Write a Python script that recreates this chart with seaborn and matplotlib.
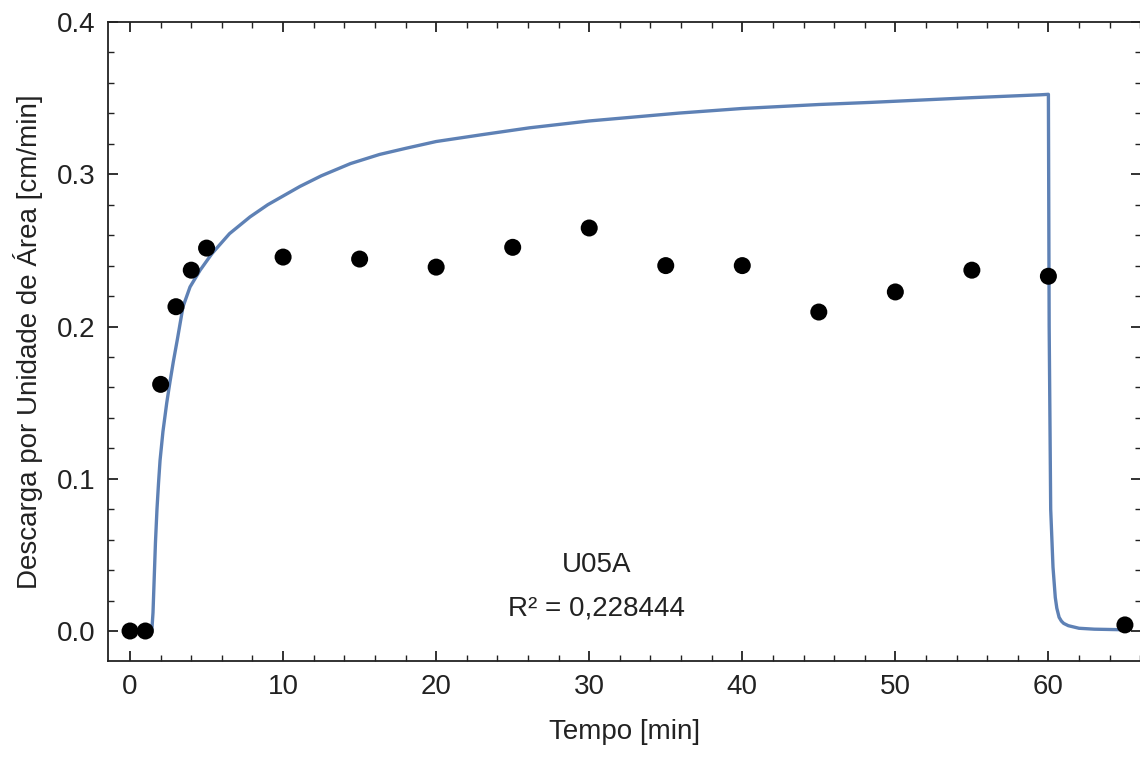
import matplotlib
matplotlib.use("Agg")
import matplotlib.pyplot as plt
import seaborn as sns
import pandas as pd
from matplotlib.ticker import MultipleLocator

# Observed data
obs_t = [0, 1, 2, 3, 4, 5, 10, 15, 20, 25, 30, 35, 40, 45, 50, 55, 60, 65]
obs_q = [0.0, 0.0, 0.162, 0.213, 0.237, 0.2515, 0.2456, 0.2443, 0.239, 0.252,
         0.2647, 0.240, 0.240, 0.2095, 0.2227, 0.237, 0.233, 0.004]

# Fitted model curve
fit_t = [0, 1.0, 1.42, 1.5, 1.58, 1.66, 1.76, 1.86, 1.96, 2.15, 2.4, 2.6, 2.83, 3.1,
         3.46, 3.92, 4.58, 5.36, 6.5, 7.84, 9.0, 11.1, 12.5, 14.4, 16.3, 18.0,
         20.0, 23.0, 26.1, 30.0, 35.9, 40.0, 45.0, 48.4, 55.0, 59.5, 60.0,
         60.05, 60.15, 60.3, 60.45, 60.55, 60.7, 60.85, 61.0, 61.3, 62.0, 63.0, 65.0]
fit_q = [0.0, 0.0, 0.0, 0.012, 0.035, 0.058, 0.080, 0.097, 0.112, 0.131, 0.150, 0.163, 0.177, 0.192,
         0.213, 0.226, 0.237, 0.248, 0.261, 0.272, 0.280, 0.292, 0.299, 0.307, 0.313, 0.317,
         0.3215, 0.326, 0.3305, 0.3350, 0.3402, 0.3432, 0.3458, 0.3472, 0.3503, 0.3522, 0.3525,
         0.20, 0.08, 0.042, 0.022, 0.015, 0.009, 0.0065, 0.005, 0.0035, 0.0018, 0.0012, 0.0008]

xticks = [0, 10, 20, 30, 40, 50, 60]
yticks = [0.0, 0.1, 0.2, 0.3, 0.4]
ytick_labels = ["0.0", "0.1", "0.2", "0.3", "0.4"]

df_obs = pd.DataFrame({"t": obs_t, "q": obs_q})
df_fit = pd.DataFrame({"t": fit_t, "q": fit_q})

sns.set_style("ticks")
plt.rcParams["font.family"] = ["Liberation Sans", "DejaVu Sans"]

fig = plt.figure(figsize=(11.4, 7.61), dpi=100)
ax = fig.add_axes([108 / 1140, 1 - 661 / 761, (1141 - 108) / 1140, (661 - 22) / 761])

sns.lineplot(data=df_fit, x="t", y="q", ax=ax, color="#5E81B5", lw=2.4,
             sort=False, estimator=None)
sns.scatterplot(data=df_obs, x="t", y="q", ax=ax, color="black", s=150,
                edgecolor="none", zorder=5)

ax.set_xlim(-1.44, 66.05)
ax.set_ylim(-0.0197, 0.4)
ax.set_xticks(xticks)
ax.set_xticklabels([str(v) for v in xticks])
ax.set_yticks(yticks)
ax.set_yticklabels(ytick_labels)
ax.xaxis.set_minor_locator(MultipleLocator(2))
ax.yaxis.set_minor_locator(MultipleLocator(0.02))
ax.tick_params(which="both", direction="in", top=True, right=True,
               color="#222222", labelsize=20, labelcolor="#222222")
ax.tick_params(which="major", length=7, width=1.3, pad=9)
ax.tick_params(which="minor", length=4, width=1.0)
for s in ax.spines.values():
    s.set_color("#222222")
    s.set_linewidth(1.3)

ax.set_xlabel("Tempo [min]", fontsize=20, color="#222222", labelpad=14)
ax.set_ylabel("Descarga por Unidade de Área [cm/min]", fontsize=20, color="#222222", labelpad=10)

ax.text(30.5, 0.0433, "U05A", ha="center", va="center", fontsize=20, color="#222222")
ax.text(30.5, 0.015, "R² = 0,228444", ha="center", va="center", fontsize=20, color="#222222")

fig.savefig("out.png", dpi=100)
